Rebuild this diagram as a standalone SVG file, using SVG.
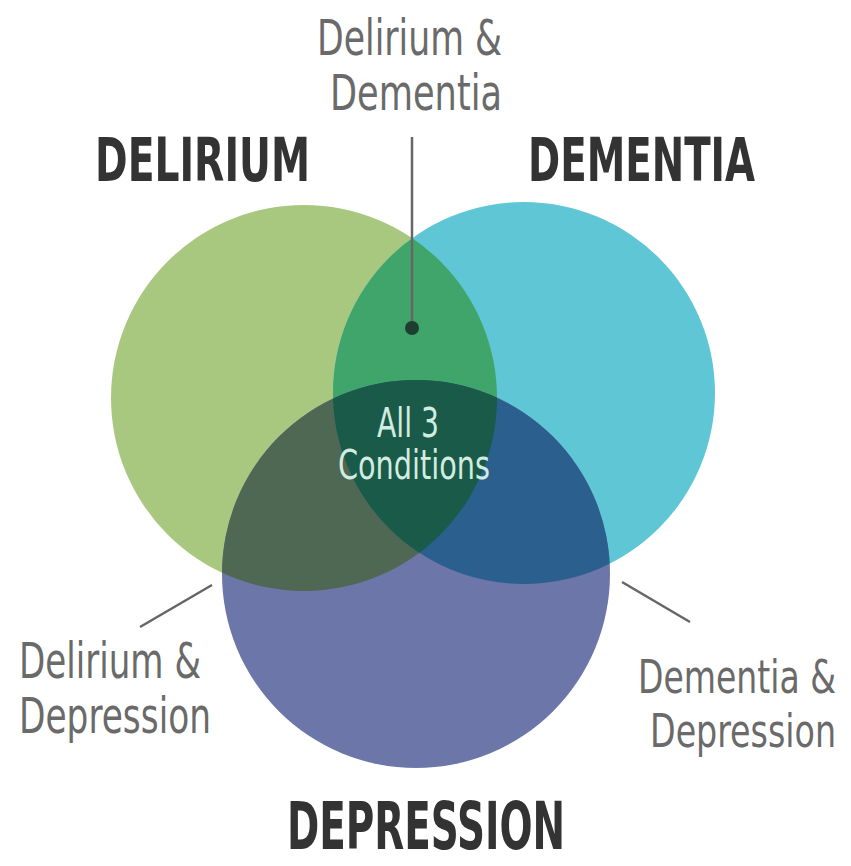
<svg xmlns="http://www.w3.org/2000/svg" width="851" height="866" viewBox="0 0 851 866">
<style>
.big{font-family:"Liberation Sans Narrow","DejaVu Sans Condensed","Liberation Sans",sans-serif;font-weight:bold;fill:#333333}
.small{font-family:"Liberation Sans Narrow","DejaVu Sans Condensed","Liberation Sans",sans-serif;fill:#6a6a6a}
.inner{font-family:"Liberation Sans Narrow","DejaVu Sans Condensed","Liberation Sans",sans-serif;fill:#d2ece0}
.lead{stroke:#666;stroke-width:2.5;fill:none}
</style>
<defs>
<clipPath id="clipA"><circle cx="304" cy="398" r="193"/></clipPath>
<clipPath id="clipB"><circle cx="524" cy="393" r="191"/></clipPath>
</defs>
<rect width="851" height="866" fill="#ffffff"/>
<g id="delirium">
<circle cx="304" cy="398" r="193" fill="#a8c77f"/>
<text class="big" x="95" y="181" font-size="60" textLength="215" lengthAdjust="spacingAndGlyphs">DELIRIUM</text>
</g>
<g id="dementia">
<circle cx="524" cy="393" r="191" fill="#5ec6d4"/>
<text class="big" x="528" y="181" font-size="60" textLength="227" lengthAdjust="spacingAndGlyphs">DEMENTIA</text>
</g>
<g id="depression">
<circle cx="416" cy="574" r="194" fill="#6c76a8"/>
<text class="big" x="287" y="849" font-size="66" textLength="278" lengthAdjust="spacingAndGlyphs">DEPRESSION</text>
</g>
<g id="delirium-dementia">
<circle cx="524" cy="393" r="191" fill="#3fa56b" clip-path="url(#clipA)"/>
<text class="small" x="317" y="55" font-size="50" textLength="185" lengthAdjust="spacingAndGlyphs">Delirium &amp;</text>
<text class="small" x="330" y="110" font-size="50" textLength="172" lengthAdjust="spacingAndGlyphs">Dementia</text>
</g>
<g id="delirium-depression">
<circle cx="416" cy="574" r="194" fill="#4e6853" clip-path="url(#clipA)"/>
<text class="small" x="19" y="678" font-size="50" textLength="182" lengthAdjust="spacingAndGlyphs">Delirium &amp;</text>
<text class="small" x="19" y="733" font-size="50" textLength="192" lengthAdjust="spacingAndGlyphs">Depression</text>
</g>
<g id="dementia-depression">
<circle cx="416" cy="574" r="194" fill="#2b5f8d" clip-path="url(#clipB)"/>
<text class="small" x="836" y="693" font-size="46" text-anchor="end" textLength="198" lengthAdjust="spacingAndGlyphs">Dementia &amp;</text>
<text class="small" x="836" y="747" font-size="46" text-anchor="end" textLength="186" lengthAdjust="spacingAndGlyphs">Depression</text>
</g>
<g id="all-three">
<g clip-path="url(#clipB)">
<circle cx="416" cy="574" r="194" fill="#1a5a48" clip-path="url(#clipA)"/>
</g>
<text class="inner" x="377" y="437" font-size="40" textLength="62" lengthAdjust="spacingAndGlyphs">All 3</text>
<text class="inner" x="338" y="479" font-size="40" textLength="152" lengthAdjust="spacingAndGlyphs">Conditions</text>
</g>
<g id="connectors">
<line class="lead" x1="412" y1="137" x2="412" y2="326" stroke="#333"/>
<circle cx="412" cy="328" r="7" fill="#1d3f2f"/>
<line class="lead" x1="212" y1="585" x2="140" y2="627"/>
<line class="lead" x1="622" y1="582" x2="690" y2="622"/>
</g>
</svg>
